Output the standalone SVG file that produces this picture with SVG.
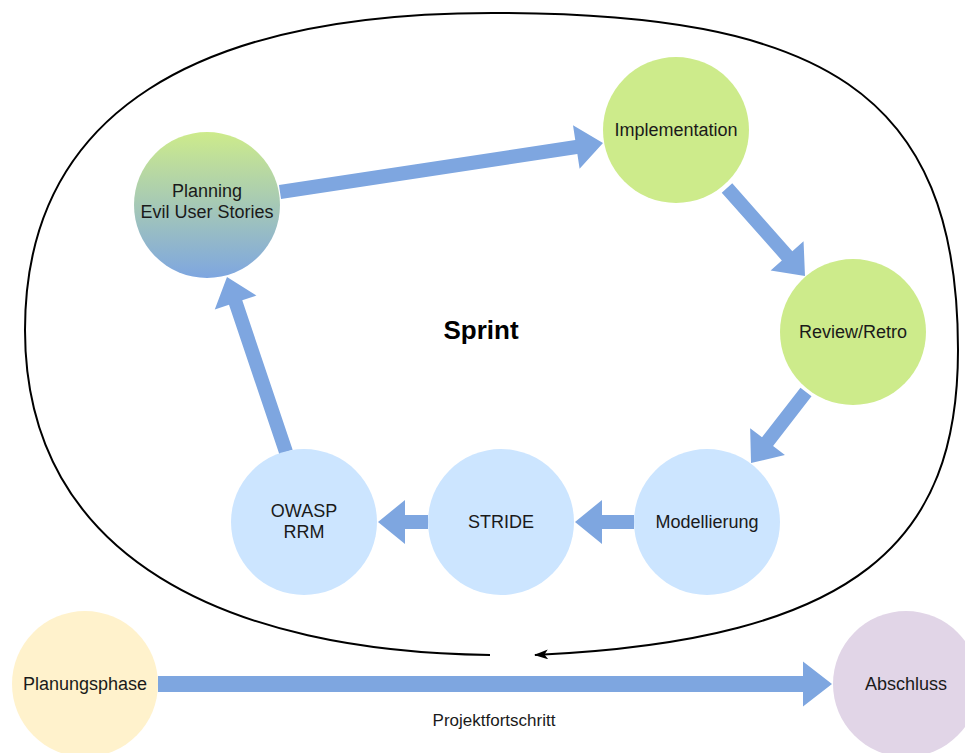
<svg xmlns="http://www.w3.org/2000/svg" width="965" height="753" viewBox="0 0 965 753">
  <style>
    .lbl { font-family: "Liberation Sans", Arial, Helvetica, sans-serif; font-size: 18px; fill: #1a1a1a; text-anchor: middle; }
    .edge-lbl { font-family: "Liberation Sans", Arial, Helvetica, sans-serif; font-size: 17px; fill: #1a1a1a; text-anchor: middle; }
    .title { font-family: "Liberation Sans", Arial, Helvetica, sans-serif; font-size: 26px; font-weight: bold; fill: #000; text-anchor: middle; }
    .flow { fill: #7ea6e0; stroke: none; }
    .green { fill: #cdeb8b; }
    .blue { fill: #cce5ff; }
    .yellow { fill: #fff2cc; }
    .purple { fill: #e1d5e7; }
    .loop { fill: none; stroke: #000; stroke-width: 2; }
  </style>
  <defs>
    <linearGradient id="planGrad" x1="0" y1="0" x2="0" y2="1">
      <stop offset="0" stop-color="#cdeb8b"/>
      <stop offset="1" stop-color="#7ea6e0"/>
    </linearGradient>
    <marker id="loopHead" viewBox="0 0 14 10" refX="13" refY="5" markerWidth="14" markerHeight="10" markerUnits="userSpaceOnUse" orient="auto">
      <path d="M0,0 L14,5 L0,10 L3.5,5 Z" fill="#000"/>
    </marker>
  </defs>

  <!-- sprint cycle boundary -->
  <g id="sprint-loop">
    <path class="loop" marker-end="url(#loopHead)"
      d="M490,655 C230,652 25,560 25,330 C25,110 200,13 492,13 C820,13 958,90 958,350 C958,540 860,640 535,655"/>
    <text class="title" x="481" y="339">Sprint</text>
  </g>

  <!-- block arrows between the stages -->
  <g id="connectors">
    <polygon class="flow" transform="translate(280,192) rotate(-8.63)" points="0,-7 299.7,-7 299.7,-22 326.7,0 299.7,22 299.7,7 0,7"/>
    <polygon class="flow" transform="translate(727,188) rotate(48.45)" points="0,-7 90.6,-7 90.6,-22 117.6,0 90.6,22 90.6,7 0,7"/>
    <polygon class="flow" transform="translate(806,392) rotate(127.76)" points="0,-7 62.8,-7 62.8,-22 89.8,0 62.8,22 62.8,7 0,7"/>
    <polygon class="flow" transform="translate(634,522) rotate(180)" points="0,-7 32,-7 32,-22 59,0 32,22 32,7 0,7"/>
    <polygon class="flow" transform="translate(428,522) rotate(180)" points="0,-7 23,-7 23,-22 50,0 23,22 23,7 0,7"/>
    <polygon class="flow" transform="translate(286,452) rotate(-108.63)" points="0,-7 157.7,-7 157.7,-22 184.7,0 157.7,22 157.7,7 0,7"/>
    <polygon class="flow" transform="translate(158,684)" points="0,-8 645,-8 645,-22.5 674,0 645,22.5 645,8 0,8"/>
    <text class="edge-lbl" x="494" y="726">Projektfortschritt</text>
  </g>

  <g id="planning">
    <circle cx="207" cy="205" r="73" fill="url(#planGrad)"/>
    <text class="lbl" x="207" y="197">Planning</text>
    <text class="lbl" x="207" y="218">Evil User Stories</text>
  </g>
  <g id="implementation">
    <circle class="green" cx="676" cy="130" r="73"/>
    <text class="lbl" x="676" y="136">Implementation</text>
  </g>
  <g id="review">
    <circle class="green" cx="853" cy="332" r="73"/>
    <text class="lbl" x="853" y="338">Review/Retro</text>
  </g>
  <g id="modellierung">
    <circle class="blue" cx="707" cy="522" r="73"/>
    <text class="lbl" x="707" y="528">Modellierung</text>
  </g>
  <g id="stride">
    <circle class="blue" cx="501" cy="522" r="73"/>
    <text class="lbl" x="501" y="528">STRIDE</text>
  </g>
  <g id="owasp">
    <circle class="blue" cx="304" cy="522" r="73"/>
    <text class="lbl" x="304" y="517">OWASP</text>
    <text class="lbl" x="304" y="538">RRM</text>
  </g>
  <g id="planungsphase">
    <circle class="yellow" cx="85" cy="684" r="73"/>
    <text class="lbl" x="85" y="690">Planungsphase</text>
  </g>
  <g id="abschluss">
    <circle class="purple" cx="906" cy="684" r="73"/>
    <text class="lbl" x="906" y="690">Abschluss</text>
  </g>
</svg>
